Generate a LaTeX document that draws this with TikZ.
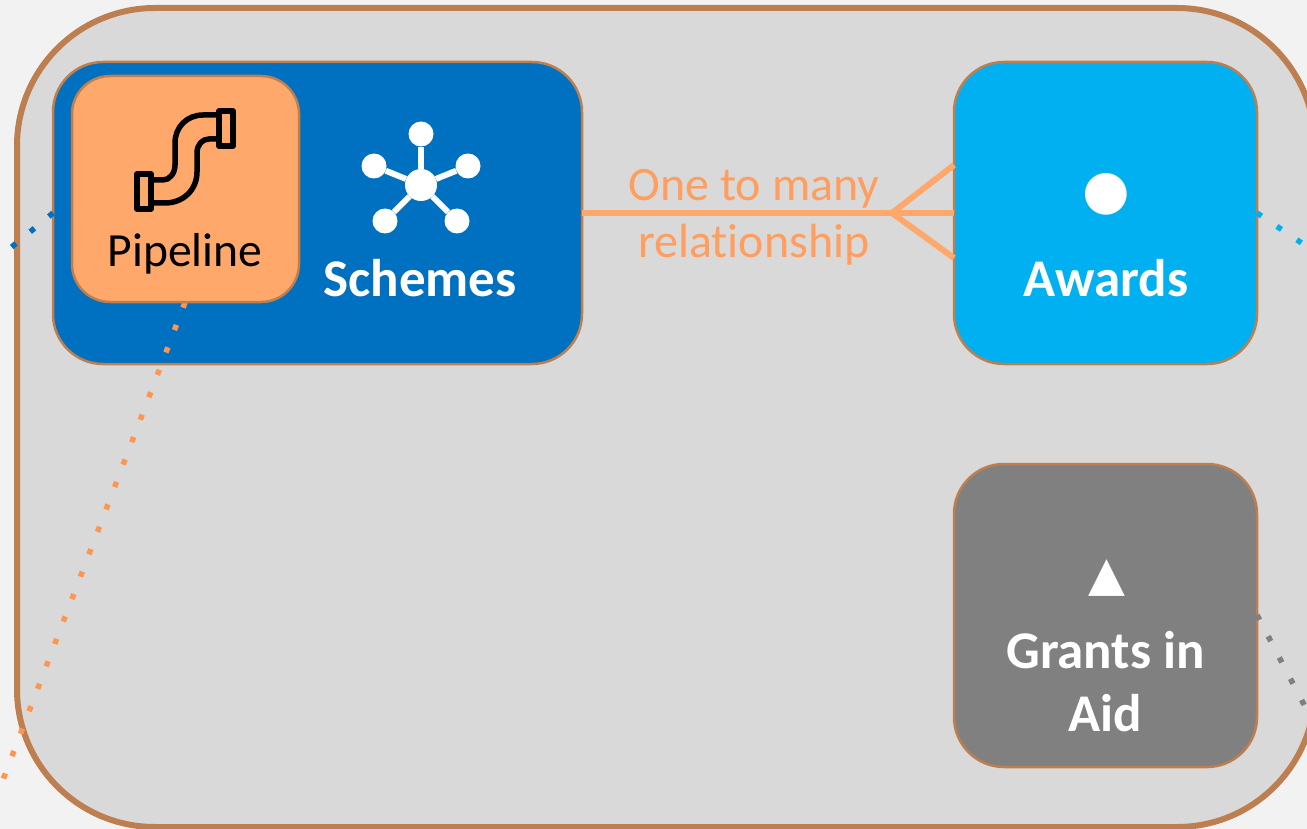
\documentclass[tikz,border=0pt]{standalone}
\usepackage{fontspec}
\setmainfont[Ligatures={NoCommon}]{Carlito}
\newfontfamily\symfont{DejaVu Sans}
\definecolor{bgc}{HTML}{F2F2F2}
\definecolor{panelc}{HTML}{D9D9D9}
\definecolor{edgec}{HTML}{BE7F50}
\definecolor{schemec}{HTML}{0070C0}
\definecolor{awardc}{HTML}{00B0F0}
\definecolor{grantc}{HTML}{808080}
\definecolor{pipec}{HTML}{FFA86B}
\definecolor{labelc}{HTML}{FF9E5E}
\definecolor{dotorange}{HTML}{FF964F}
\tikzset{
  x=1pt,y=-1pt,
  box/.style={draw=edgec,line width=2.5pt,rounded corners=50pt,inner sep=0pt,outer sep=0pt,
    minimum width=#1},
  title/.style={font=\fontsize{53}{63}\selectfont\bfseries,text=white,align=center,inner sep=0pt},
  sym/.style={text=white,inner sep=0pt},
  hub/.style={circle,fill=white,inner sep=0pt,minimum size=25pt},
  spoke/.style={white,line width=6pt},
  link/.style={pipec,line width=6pt},
  dots/.style={line width=5.5pt,dash pattern=on 5.5pt off 18.5pt},
  pipeline/.style={black,line width=5.5pt,line join=round,line cap=round},
  lab/.style={font=\fontsize{48}{48}\selectfont,text=labelc,inner sep=0pt}
}
\begin{document}
\begin{tikzpicture}
\useasboundingbox (0,0) rectangle (1307,829);
\fill[bgc] (0,0) rectangle (1307,829);
\begin{scope}
\clip (0,0) rectangle (1307,829);
\node[draw=edgec,fill=panelc,line width=6pt,rounded corners=138pt,minimum width=1298pt,minimum height=819pt,inner sep=0pt,outer sep=0pt] (panel) at (666,417.5) {};
\end{scope}
\node[box=529pt,fill=schemec,minimum height=302pt] (schemes) at (317.5,213) {};
\node[box=303pt,fill=awardc,minimum height=302pt] (awards) at (1105.5,213) {};
\node[box=303pt,fill=grantc,minimum height=303pt] (grants) at (1105.5,615.5) {};
% dotted connectors
\coordinate (orangeEnd) at (1,785);
\coordinate (blueEnd) at (8,250);
\coordinate (cyanEnd) at (1312,250);
\coordinate (greyEnd) at (1310,716);
\begin{scope}
\clip (0,0) rectangle (1307,829);
\draw[dots,dotorange] (185,302.5) -- (orangeEnd);
\draw[dots,schemec] (schemes.west) -- (blueEnd);
\draw[dots,awardc] (awards.east) -- (cyanEnd);
\draw[dots,grantc] (1257,615) -- (greyEnd);
\end{scope}
\node[draw=edgec,fill=pipec,line width=2.5pt,rounded corners=38pt,minimum width=227pt,minimum height=226pt,inner sep=0pt,outer sep=0pt] (pipe) at (185.5,189) {};
% pipe icon
\draw[pipeline] (137,174) rectangle (151,209);
\draw[pipeline] (219,111) rectangle (233,146);
\draw[pipeline] (151,180) -- (163,180) .. controls (170,180) and (175,173) .. (175,165) -- (175,143) .. controls (175,127) and (187,115) .. (203,115) -- (219,115);
\draw[pipeline] (151,203) -- (165,203) .. controls (183,203) and (197,190) .. (197,172) -- (197,153) .. controls (197,145) and (202,139) .. (209,139) -- (219,139);
\node[font=\fontsize{47.6}{47.6}\selectfont,text=black,inner sep=0pt,anchor=base] (pipetxt) at (185,266) {Pipeline};
% schemes icon
\node[hub,minimum size=32pt] (hc) at (421,185) {};
\node[hub] (h1) at (421,134) {};
\node[hub] (h2) at (374,166) {};
\node[hub] (h3) at (468,166) {};
\node[hub] (h4) at (385,221) {};
\node[hub] (h5) at (457,221) {};
\foreach \n in {h1,h2,h3,h4,h5} \draw[spoke] (hc) -- (\n);
\node[title,anchor=base] (schemetxt) at (420,297) {Schemes};
% awards and grants
\node[sym,font=\fontsize{54.6}{54.6}\selectfont\symfont] (awardsym) at (1106,194) {●};
\node[title,anchor=base] (awardtxt) at (1106,297) {Awards};
\node[sym,font=\fontsize{48}{48}\selectfont\symfont] (grantsym) at (1107,578) {▲};
\node[title,anchor=base] (granttxt) at (1105.5,731) {Grants in\\Aid};
% relationship
\coordinate (fork) at (892,213);
\coordinate (footTop) at (954,165);
\coordinate (footBot) at (954,258);
\draw[link] (schemes.east) -- (awards.west);
\draw[link] (footTop) -- (fork) -- (footBot);
\node[lab,anchor=base] (rel1) at (754,201) {One to many};
\node[lab,anchor=base] (rel2) at (754,258) {relationship};
\end{tikzpicture}
\end{document}
